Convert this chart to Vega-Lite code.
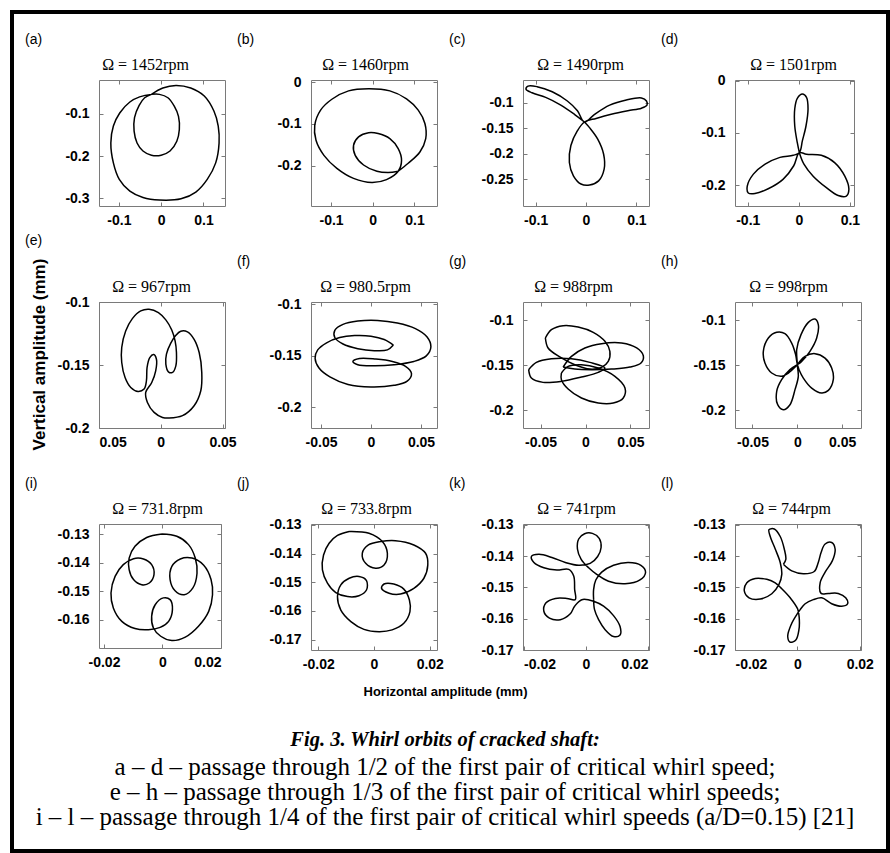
{
"$schema": "https://vega.github.io/schema/vega-lite/v6.json",
"background": "white",
"padding": {"left": 12, "top": 12, "right": 2, "bottom": 2},
"datasets": {
"a": [{"x":-0.023,"y":-0.054},{"x":0.004,"y":-0.039},{"x":0.035,"y":-0.033},{"x":0.070,"y":-0.039},{"x":0.102,"y":-0.058},{"x":0.125,"y":-0.094},{"x":0.135,"y":-0.129},{"x":0.137,"y":-0.169},{"x":0.129,"y":-0.216},{"x":0.109,"y":-0.255},{"x":0.082,"y":-0.285},{"x":0.047,"y":-0.301},{"x":-0.004,"y":-0.304},{"x":-0.043,"y":-0.298},{"x":-0.074,"y":-0.283},{"x":-0.099,"y":-0.255},{"x":-0.113,"y":-0.216},{"x":-0.119,"y":-0.169},{"x":-0.113,"y":-0.129},{"x":-0.098,"y":-0.098},{"x":-0.074,"y":-0.072},{"x":-0.051,"y":-0.060},{"x":-0.023,"y":-0.054},{"x":-0.004,"y":-0.054},{"x":0.016,"y":-0.062},{"x":0.031,"y":-0.082},{"x":0.041,"y":-0.106},{"x":0.043,"y":-0.137},{"x":0.037,"y":-0.165},{"x":0.021,"y":-0.188},{"x":0.000,"y":-0.198},{"x":-0.023,"y":-0.198},{"x":-0.043,"y":-0.188},{"x":-0.057,"y":-0.169},{"x":-0.064,"y":-0.141},{"x":-0.063,"y":-0.109},{"x":-0.052,"y":-0.080},{"x":-0.039,"y":-0.062},{"x":-0.023,"y":-0.054}],
"b": [{"x":0.061,"y":-0.213},{"x":0.085,"y":-0.194},{"x":0.113,"y":-0.167},{"x":0.127,"y":-0.135},{"x":0.125,"y":-0.099},{"x":0.109,"y":-0.067},{"x":0.081,"y":-0.040},{"x":0.041,"y":-0.021},{"x":-0.010,"y":-0.016},{"x":-0.058,"y":-0.021},{"x":-0.098,"y":-0.041},{"x":-0.125,"y":-0.067},{"x":-0.139,"y":-0.103},{"x":-0.136,"y":-0.139},{"x":-0.117,"y":-0.175},{"x":-0.086,"y":-0.206},{"x":-0.046,"y":-0.230},{"x":-0.002,"y":-0.240},{"x":0.033,"y":-0.233},{"x":0.061,"y":-0.213},{"x":0.069,"y":-0.187},{"x":0.061,"y":-0.159},{"x":0.041,"y":-0.135},{"x":0.013,"y":-0.123},{"x":-0.010,"y":-0.121},{"x":-0.034,"y":-0.131},{"x":-0.046,"y":-0.151},{"x":-0.042,"y":-0.175},{"x":-0.022,"y":-0.198},{"x":0.010,"y":-0.213},{"x":0.037,"y":-0.216},{"x":0.061,"y":-0.213}],
"c": [{"x":-0.003,"y":-0.138},{"x":-0.023,"y":-0.123},{"x":-0.050,"y":-0.105},{"x":-0.080,"y":-0.090},{"x":-0.107,"y":-0.081},{"x":-0.119,"y":-0.074},{"x":-0.115,"y":-0.068},{"x":-0.097,"y":-0.069},{"x":-0.067,"y":-0.079},{"x":-0.037,"y":-0.097},{"x":-0.017,"y":-0.116},{"x":-0.003,"y":-0.138},{"x":0.017,"y":-0.123},{"x":0.047,"y":-0.105},{"x":0.080,"y":-0.095},{"x":0.110,"y":-0.091},{"x":0.120,"y":-0.097},{"x":0.121,"y":-0.105},{"x":0.110,"y":-0.111},{"x":0.083,"y":-0.116},{"x":0.050,"y":-0.123},{"x":0.020,"y":-0.131},{"x":-0.003,"y":-0.138},{"x":-0.017,"y":-0.155},{"x":-0.030,"y":-0.184},{"x":-0.033,"y":-0.217},{"x":-0.025,"y":-0.243},{"x":-0.010,"y":-0.259},{"x":0.007,"y":-0.261},{"x":0.025,"y":-0.253},{"x":0.036,"y":-0.230},{"x":0.035,"y":-0.201},{"x":0.023,"y":-0.171},{"x":0.007,"y":-0.149},{"x":-0.003,"y":-0.138}],
"d": [{"x":0.001,"y":-0.138},{"x":-0.003,"y":-0.119},{"x":-0.008,"y":-0.087},{"x":-0.008,"y":-0.054},{"x":-0.003,"y":-0.034},{"x":0.007,"y":-0.026},{"x":0.015,"y":-0.032},{"x":0.018,"y":-0.054},{"x":0.014,"y":-0.087},{"x":0.007,"y":-0.115},{"x":0.001,"y":-0.138},{"x":-0.011,"y":-0.143},{"x":-0.037,"y":-0.147},{"x":-0.066,"y":-0.160},{"x":-0.089,"y":-0.179},{"x":-0.101,"y":-0.202},{"x":-0.099,"y":-0.215},{"x":-0.086,"y":-0.216},{"x":-0.060,"y":-0.207},{"x":-0.031,"y":-0.189},{"x":-0.010,"y":-0.163},{"x":0.001,"y":-0.138},{"x":0.015,"y":-0.141},{"x":0.044,"y":-0.143},{"x":0.070,"y":-0.157},{"x":0.090,"y":-0.183},{"x":0.098,"y":-0.208},{"x":0.093,"y":-0.221},{"x":0.077,"y":-0.220},{"x":0.054,"y":-0.205},{"x":0.028,"y":-0.183},{"x":0.010,"y":-0.160},{"x":0.001,"y":-0.138}],
"e": [{"x":0.0068,"y":-0.1921},{"x":0.0176,"y":-0.1902},{"x":0.027,"y":-0.1823},{"x":0.0324,"y":-0.1704},{"x":0.0332,"y":-0.1559},{"x":0.0311,"y":-0.1401},{"x":0.027,"y":-0.1296},{"x":0.0216,"y":-0.1237},{"x":0.0162,"y":-0.1232},{"x":0.0122,"y":-0.1264},{"x":0.0081,"y":-0.1327},{"x":0.0046,"y":-0.1414},{"x":0.0041,"y":-0.1493},{"x":0.0062,"y":-0.1554},{"x":0.0095,"y":-0.1559},{"x":0.0122,"y":-0.1507},{"x":0.0127,"y":-0.1401},{"x":0.0116,"y":-0.1309},{"x":0.0089,"y":-0.1222},{"x":0.0041,"y":-0.1142},{"x":-0.0019,"y":-0.1084},{"x":-0.0095,"y":-0.1058},{"x":-0.0162,"y":-0.1071},{"x":-0.023,"y":-0.1132},{"x":-0.0284,"y":-0.123},{"x":-0.0316,"y":-0.1361},{"x":-0.0316,"y":-0.148},{"x":-0.0289,"y":-0.1599},{"x":-0.0243,"y":-0.1678},{"x":-0.0184,"y":-0.171},{"x":-0.0135,"y":-0.1691},{"x":-0.0116,"y":-0.1625},{"x":-0.0111,"y":-0.152},{"x":-0.0089,"y":-0.1441},{"x":-0.0057,"y":-0.1417},{"x":-0.0035,"y":-0.1454},{"x":-0.0041,"y":-0.1546},{"x":-0.0073,"y":-0.1639},{"x":-0.0122,"y":-0.1718},{"x":-0.0108,"y":-0.1797},{"x":-0.0054,"y":-0.1876},{"x":0.0014,"y":-0.1916},{"x":0.0068,"y":-0.1921}],
"f": [{"x":0.0224,"y":-0.1397},{"x":0.0132,"y":-0.1343},{"x":0,"y":-0.1311},{"x":-0.0164,"y":-0.1305},{"x":-0.0313,"y":-0.1324},{"x":-0.0444,"y":-0.1375},{"x":-0.0533,"y":-0.1444},{"x":-0.0559,"y":-0.1524},{"x":-0.052,"y":-0.1619},{"x":-0.0411,"y":-0.1705},{"x":-0.023,"y":-0.1778},{"x":0,"y":-0.1803},{"x":0.023,"y":-0.1787},{"x":0.0362,"y":-0.1746},{"x":0.0405,"y":-0.1673},{"x":0.0345,"y":-0.1603},{"x":0.0214,"y":-0.1556},{"x":0.0049,"y":-0.1533},{"x":-0.0115,"y":-0.1527},{"x":-0.0181,"y":-0.1556},{"x":-0.0132,"y":-0.1587},{"x":0.0033,"y":-0.1597},{"x":0.023,"y":-0.1587},{"x":0.0428,"y":-0.1556},{"x":0.0553,"y":-0.1502},{"x":0.0599,"y":-0.1413},{"x":0.0559,"y":-0.1317},{"x":0.0444,"y":-0.1238},{"x":0.0263,"y":-0.1184},{"x":0.0066,"y":-0.1159},{"x":-0.0132,"y":-0.1165},{"x":-0.028,"y":-0.1197},{"x":-0.0362,"y":-0.1254},{"x":-0.0362,"y":-0.1324},{"x":-0.028,"y":-0.1387},{"x":-0.0132,"y":-0.1432},{"x":0.0033,"y":-0.1451},{"x":0.0164,"y":-0.1444},{"x":0.0224,"y":-0.1397}],
"g": [{"s":"A","x":-0.0446,"y":-0.1196},{"s":"A","x":-0.0379,"y":-0.1104},{"s":"A","x":-0.0249,"y":-0.1059},{"s":"A","x":-0.0082,"y":-0.1074},{"s":"A","x":0.0086,"y":-0.1133},{"s":"A","x":0.0216,"y":-0.1233},{"s":"A","x":0.0271,"y":-0.1344},{"s":"A","x":0.0253,"y":-0.1456},{"s":"A","x":0.0178,"y":-0.1522},{"s":"A","x":0.0048,"y":-0.1541},{"s":"A","x":-0.0119,"y":-0.1493},{"s":"A","x":-0.0286,"y":-0.1407},{"s":"A","x":-0.0416,"y":-0.1307},{"s":"A","x":-0.0446,"y":-0.1196},
{"s":"B","x":-0.0249,"y":-0.1519},{"s":"B","x":-0.0156,"y":-0.14},{"s":"B","x":-0.0007,"y":-0.1307},{"s":"B","x":0.0178,"y":-0.1259},{"s":"B","x":0.0401,"y":-0.1252},{"s":"B","x":0.0569,"y":-0.1307},{"s":"B","x":0.0643,"y":-0.1393},{"s":"B","x":0.0617,"y":-0.1474},{"s":"B","x":0.0494,"y":-0.1519},{"s":"B","x":0.029,"y":-0.1541},{"s":"B","x":0.0067,"y":-0.1548},{"s":"B","x":-0.0119,"y":-0.1541},{"s":"B","x":-0.0249,"y":-0.1519},
{"s":"C","x":-0.0632,"y":-0.1548},{"s":"C","x":-0.0546,"y":-0.1467},{"s":"C","x":-0.0379,"y":-0.1426},{"s":"C","x":-0.0156,"y":-0.1426},{"s":"C","x":0.0048,"y":-0.1467},{"s":"C","x":0.0216,"y":-0.153},{"s":"C","x":0.0141,"y":-0.1578},{"s":"C","x":-0.0045,"y":-0.163},{"s":"C","x":-0.0268,"y":-0.1678},{"s":"C","x":-0.0472,"y":-0.1689},{"s":"C","x":-0.0602,"y":-0.1641},{"s":"C","x":-0.0632,"y":-0.1548},
{"s":"D","x":-0.0268,"y":-0.1585},{"s":"D","x":-0.0193,"y":-0.1511},{"s":"D","x":-0.0045,"y":-0.1493},{"s":"D","x":0.0141,"y":-0.153},{"s":"D","x":0.0327,"y":-0.1622},{"s":"D","x":0.0439,"y":-0.1752},{"s":"D","x":0.042,"y":-0.1863},{"s":"D","x":0.0309,"y":-0.1919},{"s":"D","x":0.0141,"y":-0.1919},{"s":"D","x":-0.0045,"y":-0.1863},{"s":"D","x":-0.0193,"y":-0.1763},{"s":"D","x":-0.0268,"y":-0.1659},{"s":"D","x":-0.0268,"y":-0.1585}],
"h": [{"x":0,"y":-0.1493},{"x":-0.01,"y":-0.1585},{"x":-0.0175,"y":-0.1622},{"x":-0.0286,"y":-0.1585},{"x":-0.0361,"y":-0.1474},{"x":-0.0379,"y":-0.1344},{"x":-0.0323,"y":-0.1196},{"x":-0.023,"y":-0.1133},{"x":-0.0138,"y":-0.1148},{"x":-0.0063,"y":-0.1252},{"x":-0.0019,"y":-0.1381},{"x":0,"y":-0.1493},{"x":-0.0007,"y":-0.1326},{"x":0.0041,"y":-0.1159},{"x":0.0123,"y":-0.1022},{"x":0.0197,"y":-0.0985},{"x":0.0234,"y":-0.1048},{"x":0.0216,"y":-0.1196},{"x":0.0141,"y":-0.1344},{"x":0.0048,"y":-0.1456},{"x":0,"y":-0.1493},{"x":0.0086,"y":-0.14},{"x":0.0197,"y":-0.137},{"x":0.0309,"y":-0.1419},{"x":0.0383,"y":-0.153},{"x":0.0401,"y":-0.1659},{"x":0.0346,"y":-0.1778},{"x":0.0271,"y":-0.1807},{"x":0.016,"y":-0.1752},{"x":0.0067,"y":-0.1641},{"x":0.0019,"y":-0.1548},{"x":0,"y":-0.1493},{"x":0.0011,"y":-0.1622},{"x":-0.0026,"y":-0.177},{"x":-0.0082,"y":-0.1937},{"x":-0.0156,"y":-0.1993},{"x":-0.0219,"y":-0.1937},{"x":-0.023,"y":-0.1789},{"x":-0.0175,"y":-0.1659},{"x":-0.0082,"y":-0.1548},{"x":0,"y":-0.1493}],
"i": [{"x":-0.0002,"y":-0.13},{"x":0.0049,"y":-0.1308},{"x":0.0089,"y":-0.1337},{"x":0.0112,"y":-0.1384},{"x":0.0118,"y":-0.1437},{"x":0.0104,"y":-0.1488},{"x":0.0074,"y":-0.1512},{"x":0.0043,"y":-0.1498},{"x":0.0026,"y":-0.1459},{"x":0.0032,"y":-0.1413},{"x":0.0061,"y":-0.1387},{"x":0.0101,"y":-0.1384},{"x":0.0141,"y":-0.1409},{"x":0.0166,"y":-0.1459},{"x":0.0171,"y":-0.1512},{"x":0.0158,"y":-0.157},{"x":0.0123,"y":-0.1622},{"x":0.0078,"y":-0.166},{"x":0.0032,"y":-0.1672},{"x":-0.0006,"y":-0.1657},{"x":-0.0031,"y":-0.1628},{"x":-0.0037,"y":-0.1587},{"x":-0.0025,"y":-0.1547},{"x":0.0003,"y":-0.1523},{"x":0.0026,"y":-0.1529},{"x":0.0034,"y":-0.1564},{"x":0.0021,"y":-0.1605},{"x":-0.0008,"y":-0.1626},{"x":-0.0048,"y":-0.1634},{"x":-0.0094,"y":-0.163},{"x":-0.0139,"y":-0.1605},{"x":-0.0168,"y":-0.1558},{"x":-0.0176,"y":-0.1506},{"x":-0.0162,"y":-0.1448},{"x":-0.0134,"y":-0.1407},{"x":-0.0099,"y":-0.1386},{"x":-0.0065,"y":-0.1387},{"x":-0.0037,"y":-0.1407},{"x":-0.0029,"y":-0.1442},{"x":-0.0045,"y":-0.1471},{"x":-0.0071,"y":-0.1477},{"x":-0.0099,"y":-0.1459},{"x":-0.0114,"y":-0.1424},{"x":-0.0114,"y":-0.1384},{"x":-0.0094,"y":-0.1343},{"x":-0.0054,"y":-0.1312},{"x":-0.0002,"y":-0.13}],
"j": [{"x":-0.0089,"y":-0.1323},{"x":-0.0018,"y":-0.1329},{"x":0.003,"y":-0.1358},{"x":0.0048,"y":-0.1399},{"x":0.0036,"y":-0.144},{"x":0.0006,"y":-0.1451},{"x":-0.003,"y":-0.1434},{"x":-0.0042,"y":-0.1399},{"x":-0.002,"y":-0.137},{"x":0.0024,"y":-0.1358},{"x":0.0077,"y":-0.1355},{"x":0.0143,"y":-0.137},{"x":0.0185,"y":-0.1399},{"x":0.0193,"y":-0.144},{"x":0.0179,"y":-0.1486},{"x":0.0143,"y":-0.1521},{"x":0.0095,"y":-0.1541},{"x":0.0054,"y":-0.1538},{"x":0.0027,"y":-0.1521},{"x":0.0036,"y":-0.1506},{"x":0.0071,"y":-0.1506},{"x":0.0107,"y":-0.1524},{"x":0.0127,"y":-0.1562},{"x":0.0129,"y":-0.1602},{"x":0.0107,"y":-0.1643},{"x":0.0065,"y":-0.1666},{"x":0.0018,"y":-0.1672},{"x":-0.0036,"y":-0.1664},{"x":-0.0083,"y":-0.1637},{"x":-0.0119,"y":-0.1597},{"x":-0.0131,"y":-0.155},{"x":-0.0119,"y":-0.1509},{"x":-0.0089,"y":-0.1486},{"x":-0.0054,"y":-0.148},{"x":-0.0027,"y":-0.1494},{"x":-0.0027,"y":-0.1527},{"x":-0.0054,"y":-0.1547},{"x":-0.0095,"y":-0.155},{"x":-0.0137,"y":-0.1536},{"x":-0.0167,"y":-0.1503},{"x":-0.0185,"y":-0.1457},{"x":-0.0181,"y":-0.1405},{"x":-0.0161,"y":-0.1364},{"x":-0.0131,"y":-0.1337},{"x":-0.0089,"y":-0.1323}],
"k": [{"x":0.0025,"y":-0.1539},{"x":0.0025,"y":-0.1506},{"x":0.0032,"y":-0.1476},{"x":0.0051,"y":-0.1451},{"x":0.0089,"y":-0.1429},{"x":0.0137,"y":-0.142},{"x":0.0177,"y":-0.1429},{"x":0.0192,"y":-0.1451},{"x":0.0174,"y":-0.1476},{"x":0.0126,"y":-0.1488},{"x":0.0073,"y":-0.148},{"x":0.0035,"y":-0.1458},{"x":0.0009,"y":-0.1437},{"x":-0.0015,"y":-0.141},{"x":-0.0027,"y":-0.1377},{"x":-0.0023,"y":-0.1345},{"x":-0.0004,"y":-0.1328},{"x":0.0021,"y":-0.1327},{"x":0.0043,"y":-0.1343},{"x":0.0049,"y":-0.1372},{"x":0.0038,"y":-0.1401},{"x":0.0014,"y":-0.1423},{"x":-0.0023,"y":-0.1429},{"x":-0.0066,"y":-0.142},{"x":-0.0109,"y":-0.1404},{"x":-0.0151,"y":-0.1394},{"x":-0.0175,"y":-0.1401},{"x":-0.0167,"y":-0.142},{"x":-0.0135,"y":-0.1437},{"x":-0.0093,"y":-0.1444},{"x":-0.0055,"y":-0.1442},{"x":-0.0039,"y":-0.1463},{"x":-0.0036,"y":-0.1506},{"x":-0.0034,"y":-0.1539},{"x":-0.0061,"y":-0.1535},{"x":-0.0098,"y":-0.1535},{"x":-0.0128,"y":-0.1549},{"x":-0.0135,"y":-0.1576},{"x":-0.0117,"y":-0.1598},{"x":-0.0082,"y":-0.1603},{"x":-0.005,"y":-0.1584},{"x":-0.0036,"y":-0.156},{"x":-0.0013,"y":-0.1539},{"x":0.0025,"y":-0.1544},{"x":0.0057,"y":-0.156},{"x":0.0089,"y":-0.159},{"x":0.011,"y":-0.1625},{"x":0.011,"y":-0.1652},{"x":0.0089,"y":-0.1657},{"x":0.0062,"y":-0.1635},{"x":0.0041,"y":-0.1603},{"x":0.0028,"y":-0.1571},{"x":0.0025,"y":-0.1539}],
"l": [{"x":-0.0045,"y":-0.1426},{"x":-0.0018,"y":-0.1447},{"x":0.0019,"y":-0.1456},{"x":0.0054,"y":-0.1449},{"x":0.0067,"y":-0.142},{"x":0.0076,"y":-0.1388},{"x":0.0089,"y":-0.1361},{"x":0.011,"y":-0.1356},{"x":0.0121,"y":-0.1377},{"x":0.0112,"y":-0.1415},{"x":0.0089,"y":-0.1451},{"x":0.0073,"y":-0.1485},{"x":0.0076,"y":-0.1519},{"x":0.0099,"y":-0.1519},{"x":0.0131,"y":-0.1519},{"x":0.0155,"y":-0.1533},{"x":0.0161,"y":-0.1552},{"x":0.0142,"y":-0.156},{"x":0.011,"y":-0.1552},{"x":0.0078,"y":-0.1533},{"x":0.0051,"y":-0.1539},{"x":0.0025,"y":-0.1552},{"x":0.0009,"y":-0.1571},{"x":-0.0002,"y":-0.1587},{"x":-0.002,"y":-0.1619},{"x":-0.0031,"y":-0.1657},{"x":-0.0023,"y":-0.1675},{"x":-0.0005,"y":-0.1668},{"x":0.0005,"y":-0.1635},{"x":0.0006,"y":-0.1598},{"x":0.0001,"y":-0.1569},{"x":-0.0023,"y":-0.1533},{"x":-0.005,"y":-0.1504},{"x":-0.0071,"y":-0.1485},{"x":-0.0098,"y":-0.1474},{"x":-0.0135,"y":-0.1471},{"x":-0.0162,"y":-0.1485},{"x":-0.017,"y":-0.1512},{"x":-0.0155,"y":-0.1533},{"x":-0.0119,"y":-0.1537},{"x":-0.0082,"y":-0.152},{"x":-0.0059,"y":-0.149},{"x":-0.005,"y":-0.1458},{"x":-0.0055,"y":-0.142},{"x":-0.0071,"y":-0.1377},{"x":-0.0087,"y":-0.1337},{"x":-0.0091,"y":-0.1315},{"x":-0.0074,"y":-0.1313},{"x":-0.0055,"y":-0.1337},{"x":-0.0042,"y":-0.1377},{"x":-0.0037,"y":-0.141},{"x":-0.0045,"y":-0.1426}]
},
"bounds": "flush",
"spacing": 67,
"vconcat": [
{"width": 1, "height": 1, "data": {"values": []}, "mark": "point", "view": {"stroke": null}},
{
"columns": 5,
"bounds": "flush",
"align": "each",
"spacing": {"row": 96, "column": 86},
"concat": [
{"width": 1, "height": 1, "data": {"values": []}, "mark": "point", "view": {"stroke": null}},
{"data": {"name": "a"}, "width": 126, "height": 126, "title": {"text": "(a)"},
 "layer": [
  {"mark": "line", "encoding": {
    "x": {"field": "x", "type": "quantitative", "scale": {"domain": [-0.147, 0.151], "nice": false, "zero": false}, "axis": {"values": [-0.1, 0, 0.1], "title": null, "format": "~g", "labelExpr": "replace(datum.label, '−', '-')"}},
    "y": {"field": "y", "type": "quantitative", "scale": {"domain": [-0.318, -0.02], "nice": false, "zero": false}, "axis": {"values": [-0.3, -0.2, -0.1], "title": null, "format": "~g", "labelExpr": "replace(datum.label, '−', '-')"}},
    "order": {"value": null}}},
  {"mark": {"type": "line", "opacity": 0}, "encoding": {
    "x": {"field": "x", "type": "quantitative", "scale": {"domain": [-0.147, 0.151], "nice": false, "zero": false}, "axis": {"orient": "top", "values": [-0.1, 0, 0.1], "labels": false, "title": "Ω = 1452rpm", "titleX": 46}},
    "y": {"field": "y", "type": "quantitative", "scale": {"domain": [-0.318, -0.02], "nice": false, "zero": false}, "axis": {"orient": "right", "values": [-0.3, -0.2, -0.1], "labels": false, "title": null}},
    "order": {"value": null}}}
 ], "resolve": {"axis": {"x": "independent", "y": "independent"}}},
{"data": {"name": "b"}, "width": 126, "height": 126, "title": {"text": "(b)"},
 "layer": [
  {"mark": "line", "encoding": {
    "x": {"field": "x", "type": "quantitative", "scale": {"domain": [-0.148, 0.154], "nice": false, "zero": false}, "axis": {"values": [-0.1, 0, 0.1], "title": null, "format": "~g", "labelExpr": "replace(datum.label, '−', '-')"}},
    "y": {"field": "y", "type": "quantitative", "scale": {"domain": [-0.296, 0.005], "nice": false, "zero": false}, "axis": {"values": [-0.2, -0.1, 0], "title": null, "format": "~g", "labelExpr": "replace(datum.label, '−', '-')"}},
    "order": {"value": null}}},
  {"mark": {"type": "line", "opacity": 0}, "encoding": {
    "x": {"field": "x", "type": "quantitative", "scale": {"domain": [-0.148, 0.154], "nice": false, "zero": false}, "axis": {"orient": "top", "values": [-0.1, 0, 0.1], "labels": false, "title": "Ω = 1460rpm", "titleX": 54}},
    "y": {"field": "y", "type": "quantitative", "scale": {"domain": [-0.296, 0.005], "nice": false, "zero": false}, "axis": {"orient": "right", "values": [-0.2, -0.1, 0], "labels": false, "title": null}},
    "order": {"value": null}}}
 ], "resolve": {"axis": {"x": "independent", "y": "independent"}}},
{"data": {"name": "c"}, "width": 126, "height": 126, "title": {"text": "(c)"},
 "layer": [
  {"mark": "line", "encoding": {
    "x": {"field": "x", "type": "quantitative", "scale": {"domain": [-0.125, 0.125], "nice": false, "zero": false}, "axis": {"values": [-0.1, 0, 0.1], "title": null, "format": "~g", "labelExpr": "replace(datum.label, '−', '-')"}},
    "y": {"field": "y", "type": "quantitative", "scale": {"domain": [-0.302, -0.056], "nice": false, "zero": false}, "axis": {"values": [-0.25, -0.2, -0.15, -0.1], "title": null, "format": "~g", "labelExpr": "replace(datum.label, '−', '-')"}},
    "order": {"value": null}}},
  {"mark": {"type": "line", "opacity": 0}, "encoding": {
    "x": {"field": "x", "type": "quantitative", "scale": {"domain": [-0.125, 0.125], "nice": false, "zero": false}, "axis": {"orient": "top", "values": [-0.1, 0, 0.1], "labels": false, "title": "Ω = 1490rpm", "titleX": 57}},
    "y": {"field": "y", "type": "quantitative", "scale": {"domain": [-0.302, -0.056], "nice": false, "zero": false}, "axis": {"orient": "right", "values": [-0.25, -0.2, -0.15, -0.1], "labels": false, "title": null}},
    "order": {"value": null}}}
 ], "resolve": {"axis": {"x": "independent", "y": "independent"}}},
{"data": {"name": "d"}, "width": 119, "height": 126, "title": {"text": "(d)"},
 "layer": [
  {"mark": "line", "encoding": {
    "x": {"field": "x", "type": "quantitative", "scale": {"domain": [-0.125, 0.108], "nice": false, "zero": false}, "axis": {"values": [-0.1, 0, 0.1], "title": null, "format": "~g", "labelExpr": "replace(datum.label, '−', '-')"}},
    "y": {"field": "y", "type": "quantitative", "scale": {"domain": [-0.24, 0.001], "nice": false, "zero": false}, "axis": {"values": [-0.2, -0.1, 0], "title": null, "format": "~g", "labelExpr": "replace(datum.label, '−', '-')"}},
    "order": {"value": null}}},
  {"mark": {"type": "line", "opacity": 0}, "encoding": {
    "x": {"field": "x", "type": "quantitative", "scale": {"domain": [-0.125, 0.108], "nice": false, "zero": false}, "axis": {"orient": "top", "values": [-0.1, 0, 0.1], "labels": false, "title": "Ω = 1501rpm", "titleX": 58}},
    "y": {"field": "y", "type": "quantitative", "scale": {"domain": [-0.24, 0.001], "nice": false, "zero": false}, "axis": {"orient": "right", "values": [-0.2, -0.1, 0], "labels": false, "title": null}},
    "order": {"value": null}}}
 ], "resolve": {"axis": {"x": "independent", "y": "independent"}}},
{"width": 1, "height": 1, "data": {"values": []}, "mark": "point", "view": {"stroke": null}},
{"data": {"name": "e"}, "width": 126, "height": 126, "title": {"text": "(e)"},
 "layer": [
  {"mark": "line", "encoding": {
    "x": {"field": "x", "type": "quantitative", "scale": {"domain": [-0.05, 0.052], "nice": false, "zero": false}, "axis": {"values": [-0.05, 0, 0.05], "title": null, "format": "~g", "labelExpr": "replace(replace(datum.label, '−', ''), '-', '')"}},
    "y": {"field": "y", "type": "quantitative", "scale": {"domain": [-0.2, -0.1], "nice": false, "zero": false}, "axis": {"values": [-0.2, -0.15, -0.1], "title": "Vertical amplitude (mm)", "titleFont": "Liberation Sans", "titleFontWeight": "bold", "titleFontSize": 17, "titlePadding": 9, "titleY": 52, "format": "~g", "labelExpr": "replace(datum.label, '−', '-')"}},
    "order": {"value": null}}},
  {"mark": {"type": "line", "opacity": 0}, "encoding": {
    "x": {"field": "x", "type": "quantitative", "scale": {"domain": [-0.05, 0.052], "nice": false, "zero": false}, "axis": {"orient": "top", "values": [-0.05, 0, 0.05], "labels": false, "title": "Ω = 967rpm", "titleX": 52}},
    "y": {"field": "y", "type": "quantitative", "scale": {"domain": [-0.2, -0.1], "nice": false, "zero": false}, "axis": {"orient": "right", "values": [-0.2, -0.15, -0.1], "labels": false, "title": null}},
    "order": {"value": null}}}
 ], "resolve": {"axis": {"x": "independent", "y": "independent"}}},
{"data": {"name": "f"}, "width": 126, "height": 126, "title": {"text": "(f)"},
 "layer": [
  {"mark": "line", "encoding": {
    "x": {"field": "x", "type": "quantitative", "scale": {"domain": [-0.06, 0.066], "nice": false, "zero": false}, "axis": {"values": [-0.05, 0, 0.05], "title": null, "format": "~g", "labelExpr": "replace(datum.label, '−', '-')"}},
    "y": {"field": "y", "type": "quantitative", "scale": {"domain": [-0.22, -0.098], "nice": false, "zero": false}, "axis": {"values": [-0.2, -0.15, -0.1], "title": null, "format": "~g", "labelExpr": "replace(datum.label, '−', '-')"}},
    "order": {"value": null}}},
  {"mark": {"type": "line", "opacity": 0}, "encoding": {
    "x": {"field": "x", "type": "quantitative", "scale": {"domain": [-0.06, 0.066], "nice": false, "zero": false}, "axis": {"orient": "top", "values": [-0.05, 0, 0.05], "labels": false, "title": "Ω = 980.5rpm", "titleX": 54}},
    "y": {"field": "y", "type": "quantitative", "scale": {"domain": [-0.22, -0.098], "nice": false, "zero": false}, "axis": {"orient": "right", "values": [-0.2, -0.15, -0.1], "labels": false, "title": null}},
    "order": {"value": null}}}
 ], "resolve": {"axis": {"x": "independent", "y": "independent"}}},
{"data": {"name": "g"}, "width": 126, "height": 126, "title": {"text": "(g)"},
 "layer": [
  {"mark": "line", "encoding": {
    "x": {"field": "x", "type": "quantitative", "scale": {"domain": [-0.0695, 0.0706], "nice": false, "zero": false}, "axis": {"values": [-0.05, 0, 0.05], "title": null, "format": "~g", "labelExpr": "replace(datum.label, '−', '-')"}},
    "y": {"field": "y", "type": "quantitative", "scale": {"domain": [-0.2196, -0.0796], "nice": false, "zero": false}, "axis": {"values": [-0.2, -0.15, -0.1], "title": null, "format": "~g", "labelExpr": "replace(datum.label, '−', '-')"}},
    "detail": {"field": "s", "type": "nominal"},
    "order": {"value": null}}},
  {"mark": {"type": "line", "opacity": 0}, "encoding": {
    "x": {"field": "x", "type": "quantitative", "scale": {"domain": [-0.0695, 0.0706], "nice": false, "zero": false}, "axis": {"orient": "top", "values": [-0.05, 0, 0.05], "labels": false, "title": "Ω = 988rpm", "titleX": 50}},
    "y": {"field": "y", "type": "quantitative", "scale": {"domain": [-0.2196, -0.0796], "nice": false, "zero": false}, "axis": {"orient": "right", "values": [-0.2, -0.15, -0.1], "labels": false, "title": null}},
    "detail": {"field": "s", "type": "nominal"},
    "order": {"value": null}}}
 ], "resolve": {"axis": {"x": "independent", "y": "independent"}}},
{"data": {"name": "h"}, "width": 126, "height": 126, "title": {"text": "(h)"},
 "layer": [
  {"mark": "line", "encoding": {
    "x": {"field": "x", "type": "quantitative", "scale": {"domain": [-0.0695, 0.071], "nice": false, "zero": false}, "axis": {"values": [-0.05, 0, 0.05], "title": null, "format": "~g", "labelExpr": "replace(datum.label, '−', '-')"}},
    "y": {"field": "y", "type": "quantitative", "scale": {"domain": [-0.2196, -0.0796], "nice": false, "zero": false}, "axis": {"values": [-0.2, -0.15, -0.1], "title": null, "format": "~g", "labelExpr": "replace(datum.label, '−', '-')"}},
    "order": {"value": null}}},
  {"mark": {"type": "line", "opacity": 0}, "encoding": {
    "x": {"field": "x", "type": "quantitative", "scale": {"domain": [-0.0695, 0.071], "nice": false, "zero": false}, "axis": {"orient": "top", "values": [-0.05, 0, 0.05], "labels": false, "title": "Ω = 998rpm", "titleX": 53}},
    "y": {"field": "y", "type": "quantitative", "scale": {"domain": [-0.2196, -0.0796], "nice": false, "zero": false}, "axis": {"orient": "right", "values": [-0.2, -0.15, -0.1], "labels": false, "title": null}},
    "order": {"value": null}}}
 ], "resolve": {"axis": {"x": "independent", "y": "independent"}}},
{"width": 1, "height": 1, "data": {"values": []}, "mark": "point", "view": {"stroke": null},
 "title": {"text": "Fig. 3. Whirl orbits of cracked shaft:",
  "subtitle": ["a – d – passage through 1/2 of the first pair of critical whirl speed;", "e – h – passage through 1/3 of the first pair of critical whirl speeds;", "i – l – passage through 1/4 of the first pair of critical whirl speeds (a/D=0.15) [21]"],
  "orient": "bottom", "anchor": "start", "frame": "group", "align": "center", "dx": 433, "offset": 205,
  "font": "Liberation Serif", "fontSize": 20.5, "fontStyle": "italic", "fontWeight": "bold", "color": "black",
  "subtitleFont": "Liberation Serif", "subtitleFontSize": 25, "subtitleFontStyle": "normal", "subtitleFontWeight": "normal", "subtitleColor": "black", "subtitleLineHeight": 25, "subtitlePadding": 4}},
{"data": {"name": "i"}, "width": 122, "height": 124, "title": {"text": "(i)"},
 "layer": [
  {"mark": "line", "encoding": {
    "x": {"field": "x", "type": "quantitative", "scale": {"domain": [-0.0217, 0.02], "nice": false, "zero": false}, "axis": {"values": [-0.02, 0, 0.02], "title": null, "format": "~g", "labelExpr": "replace(datum.label, '−', '-')"}},
    "y": {"field": "y", "type": "quantitative", "scale": {"domain": [-0.1698, -0.1265], "nice": false, "zero": false}, "axis": {"values": [-0.17, -0.16, -0.15, -0.14, -0.13], "title": null, "format": "~g", "labelExpr": "replace(datum.label, '−', '-')"}},
    "order": {"value": null}}},
  {"mark": {"type": "line", "opacity": 0}, "encoding": {
    "x": {"field": "x", "type": "quantitative", "scale": {"domain": [-0.0217, 0.02], "nice": false, "zero": false}, "axis": {"orient": "top", "values": [-0.02, 0, 0.02], "labels": false, "title": "Ω = 731.8rpm", "titleX": 58}},
    "y": {"field": "y", "type": "quantitative", "scale": {"domain": [-0.1698, -0.1265], "nice": false, "zero": false}, "axis": {"orient": "right", "values": [-0.17, -0.16, -0.15, -0.14, -0.13], "labels": false, "title": null}},
    "order": {"value": null}}}
 ], "resolve": {"axis": {"x": "independent", "y": "independent"}}},
{"data": {"name": "j"}, "width": 126, "height": 126, "title": {"text": "(j)"},
 "layer": [
  {"mark": "line", "encoding": {
    "x": {"field": "x", "type": "quantitative", "scale": {"domain": [-0.0226, 0.0226], "nice": false, "zero": false}, "axis": {"values": [-0.02, 0, 0.02], "title": "Horizontal amplitude (mm)", "titleFont": "Liberation Sans", "titleFontWeight": "bold", "titleFontSize": 13, "titleX": 134, "titlePadding": 14, "format": "~g", "labelExpr": "replace(datum.label, '−', '-')"}},
    "y": {"field": "y", "type": "quantitative", "scale": {"domain": [-0.1736, -0.1297], "nice": false, "zero": false}, "axis": {"values": [-0.17, -0.16, -0.15, -0.14, -0.13], "title": null, "format": "~g", "labelExpr": "replace(datum.label, '−', '-')"}},
    "order": {"value": null}}},
  {"mark": {"type": "line", "opacity": 0}, "encoding": {
    "x": {"field": "x", "type": "quantitative", "scale": {"domain": [-0.0226, 0.0226], "nice": false, "zero": false}, "axis": {"orient": "top", "values": [-0.02, 0, 0.02], "labels": false, "title": "Ω = 733.8rpm", "titleX": 55}},
    "y": {"field": "y", "type": "quantitative", "scale": {"domain": [-0.1736, -0.1297], "nice": false, "zero": false}, "axis": {"orient": "right", "values": [-0.17, -0.16, -0.15, -0.14, -0.13], "labels": false, "title": null}},
    "order": {"value": null}}}
 ], "resolve": {"axis": {"x": "independent", "y": "independent"}}},
{"data": {"name": "k"}, "width": 126, "height": 126, "title": {"text": "(k)"},
 "layer": [
  {"mark": "line", "encoding": {
    "x": {"field": "x", "type": "quantitative", "scale": {"domain": [-0.0202, 0.0203], "nice": false, "zero": false}, "axis": {"values": [-0.02, 0, 0.02], "title": null, "format": "~g", "labelExpr": "replace(datum.label, '−', '-')"}},
    "y": {"field": "y", "type": "quantitative", "scale": {"domain": [-0.17, -0.1297], "nice": false, "zero": false}, "axis": {"values": [-0.17, -0.16, -0.15, -0.14, -0.13], "title": null, "format": "~g", "labelExpr": "replace(datum.label, '−', '-')"}},
    "order": {"value": null}}},
  {"mark": {"type": "line", "opacity": 0}, "encoding": {
    "x": {"field": "x", "type": "quantitative", "scale": {"domain": [-0.0202, 0.0203], "nice": false, "zero": false}, "axis": {"orient": "top", "values": [-0.02, 0, 0.02], "labels": false, "title": "Ω = 741rpm", "titleX": 53}},
    "y": {"field": "y", "type": "quantitative", "scale": {"domain": [-0.17, -0.1297], "nice": false, "zero": false}, "axis": {"orient": "right", "values": [-0.17, -0.16, -0.15, -0.14, -0.13], "labels": false, "title": null}},
    "order": {"value": null}}}
 ], "resolve": {"axis": {"x": "independent", "y": "independent"}}},
{"data": {"name": "l"}, "width": 126, "height": 126, "title": {"text": "(l)"},
 "layer": [
  {"mark": "line", "encoding": {
    "x": {"field": "x", "type": "quantitative", "scale": {"domain": [-0.02, 0.0204], "nice": false, "zero": false}, "axis": {"values": [-0.02, 0, 0.02], "title": null, "format": "~g", "labelExpr": "replace(datum.label, '−', '-')"}},
    "y": {"field": "y", "type": "quantitative", "scale": {"domain": [-0.17, -0.1297], "nice": false, "zero": false}, "axis": {"values": [-0.17, -0.16, -0.15, -0.14, -0.13], "title": null, "format": "~g", "labelExpr": "replace(datum.label, '−', '-')"}},
    "order": {"value": null}}},
  {"mark": {"type": "line", "opacity": 0}, "encoding": {
    "x": {"field": "x", "type": "quantitative", "scale": {"domain": [-0.02, 0.0204], "nice": false, "zero": false}, "axis": {"orient": "top", "values": [-0.02, 0, 0.02], "labels": false, "title": "Ω = 744rpm", "titleX": 56}},
    "y": {"field": "y", "type": "quantitative", "scale": {"domain": [-0.17, -0.1297], "nice": false, "zero": false}, "axis": {"orient": "right", "values": [-0.17, -0.16, -0.15, -0.14, -0.13], "labels": false, "title": null}},
    "order": {"value": null}}}
 ], "resolve": {"axis": {"x": "independent", "y": "independent"}}}
]}
],
"config": {
  "width": 876,
  "height": 839,
  "group": {"stroke": "black", "strokeWidth": 4, "fill": "white"},
  "view": {"stroke": "#7a7a7a", "strokeWidth": 1},
  "axis": {"grid": false, "domain": false, "tickColor": "#7a7a7a", "tickSize": -4, "tickWidth": 1, "labelFont": "Liberation Sans", "labelFontSize": 14, "labelFontWeight": "bold", "labelColor": "black", "titleFont": "Liberation Serif", "titleFontSize": 16, "titleFontWeight": "normal", "titleColor": "black"},
  "axisX": {"labelPadding": 11, "titlePadding": 7},
  "axisY": {"labelPadding": 14},
  "title": {"font": "Liberation Sans", "fontSize": 14, "fontWeight": "normal", "color": "black", "anchor": "start", "frame": "group", "dx": -74, "offset": 10},
  "line": {"color": "black", "strokeWidth": 1.5, "interpolate": "catmull-rom"}
}
}
